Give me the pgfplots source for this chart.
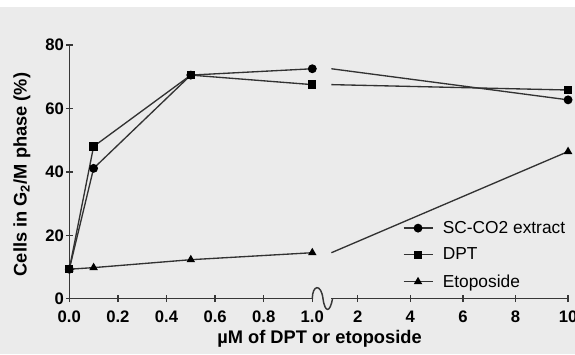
\documentclass[border=0pt]{standalone}
\usepackage{pgfplots}
\pgfplotsset{compat=1.18}
\usepackage{fontspec}
\setmainfont{Liberation Sans}
\definecolor{bg}{RGB}{235,235,235}
\definecolor{axc}{RGB}{55,55,55}
\definecolor{lnc}{RGB}{50,50,50}
\begin{document}
\begin{tikzpicture}
\begin{scope}[x=0.75pt,y=-0.75pt]
\fill[bg] (0,7) rectangle (575,354);
\coordinate (L) at (69.3,298.7);
\coordinate (R) at (331.4,298.7);
\end{scope}
\pgfplotsset{
  every axis/.append style={scale only axis, height=190.3pt, ymin=0, ymax=80, clip=false,
    tick style={axc, line width=1.1pt}, tick align=outside, major tick length=5pt,
    ticklabel style={font=\fontsize{12.5}{14}\selectfont\bfseries},
    /pgf/number format/assume math mode=true},
  ser/.style={lnc, line width=1pt, mark options={black, solid, fill=black}},
}
\begin{axis}[at={(L)}, anchor=south west, width=182.25pt,
  xmin=0, xmax=1, axis x line=bottom, axis y line=left,
  axis line style={axc, line width=1.1pt},
  x axis line style={-}, y axis line style={-},
  xtick={0,0.2,0.4,0.6,0.8,1}, ytick={0,20,40,60,80},
  xticklabel style={yshift=-3pt, /pgf/number format/.cd,fixed,fixed zerofill,precision=1},
  yticklabel style={xshift=2pt},
  legend cell align=left,
  legend style={at={(rel axis cs:1.355,0.328)}, anchor=north west, draw=none, fill=none,
    font=\fontsize{13}{15}\selectfont, row sep=5.5pt},
  legend image code/.code={\draw[mark repeat=2,mark phase=2,#1] plot coordinates {(0pt,0pt) (10.9pt,0pt) (21.75pt,0pt)};
    \path (27pt,0pt);}
]
\addplot[ser, mark=*, mark size=2.8pt] coordinates {(0,9.3) (0.1,41.1) (0.5,70.5) (1,72.5)};
\addlegendentry{SC-CO2 extract}
\addplot[ser, mark=square*, mark size=2.6pt] coordinates {(0,9.3) (0.1,48) (0.5,70.5) (1,67.5)};
\addlegendentry{DPT}
\addplot[ser, mark=triangle*, mark size=2.7pt] coordinates {(0,9.3) (0.1,9.8) (0.5,12.3) (1,14.5)};
\addlegendentry{Etoposide}
\end{axis}
\begin{axis}[at={(R)}, anchor=south west, width=177.5pt,
  xmin=1, xmax=10, axis x line=bottom, axis y line=none,
  axis line style={axc, line width=1.1pt},
  x axis line style={-},
  xticklabel style={yshift=-3pt},
  xtick={2,4,6,8,10}]
\addplot[ser, mark=*, mark size=2.8pt, mark indices={2}] coordinates {(1,72.5) (10,62.7)};
\addplot[ser, mark=square*, mark size=2.6pt, mark indices={2}] coordinates {(1,67.5) (10,65.8)};
\addplot[ser, mark=triangle*, mark size=2.7pt, mark indices={2}] coordinates {(1,14.5) (10,46.4)};
\end{axis}
\begin{scope}[x=0.75pt,y=-0.75pt]
\node[font=\fontsize{13.7}{16}\selectfont\bfseries] at (319.5,339) {µM of DPT or etoposide};
\node[rotate=90, font=\fontsize{13.7}{16}\selectfont\bfseries] at (22,174.5) {Cells in G\textsubscript{2}/M phase (\%)};
\draw[axc, line width=1.1pt] (312.3,298.7) .. controls (312.3,285) and (321,283) .. (323,298.7)
  .. controls (325,313) and (330,313) .. (332.5,298.7);
\pgfresetboundingbox
\path[use as bounding box] (0,0) rectangle (575,354);
\end{scope}
\end{tikzpicture}
\end{document}
